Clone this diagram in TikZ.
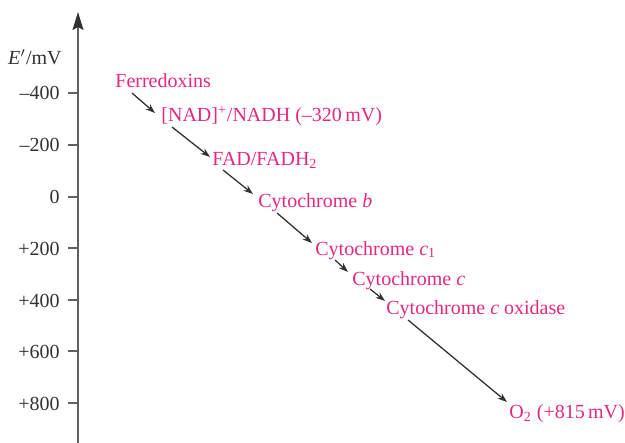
\documentclass[tikz,border=0pt]{standalone}
\usepackage{fontspec}
\setmainfont{Liberation Serif}
\usepackage{xcolor}
\usetikzlibrary{arrows.meta,positioning}
\definecolor{redoxpink}{RGB}{228,40,128}
\definecolor{axisgray}{RGB}{95,95,95}
\definecolor{inkgray}{RGB}{50,50,50}
\tikzset{
  redox/.style={anchor=base west, inner sep=0pt, text=redoxpink},
  tlbl/.style={anchor=base east, inner sep=0pt, text=inkgray},
  tick/.style={draw=axisgray, line width=0.7pt},
  axis/.style={draw=axisgray, line width=0.8pt, -{Stealth[length=9pt,width=5.5pt,inset=1.5pt,color=inkgray]}},
  flow/.style={draw=inkgray, line width=0.65pt, -{Stealth[length=4.8pt,width=3.4pt]}},
}
\begin{document}
\begin{tikzpicture}[x=0.5pt, y=-0.5pt]
  \useasboundingbox (0,0) rectangle (625,443);
  % potential axis
  \coordinate (foot) at (78,443);
  \coordinate (top) at (78,12);
  \draw[axis] (foot) -- (top);
  \node[tlbl] (unit) at (62,65) {\textit{E}$'$/mV};
  \draw[tick] (68,93) -- (78,93);
  \draw[tick] (68,145) -- (78,145);
  \draw[tick] (68,197) -- (78,197);
  \draw[tick] (68,248) -- (78,248);
  \draw[tick] (68,300) -- (78,300);
  \draw[tick] (68,351) -- (78,351);
  \draw[tick] (68,403) -- (78,403);
  \node[tlbl] (tma) at (60,100) {--400};
  \node[tlbl] (tmb) at (60,152) {--200};
  \node[tlbl] (tz) at (60,204) {0};
  \node[tlbl] (tpa) at (60,255) {+200};
  \node[tlbl] (tpb) at (60,307) {+400};
  \node[tlbl] (tpc) at (60,358) {+600};
  \node[tlbl] (tpd) at (60,410) {+800};
  % electron carriers
  \node[redox] (ferr) at (115,88) {Ferredoxins};
  \node[redox] (nad) at (161,122) {[NAD]\textsuperscript{+}/NADH (--320\,mV)};
  \node[redox] (fad) at (212,166) {FAD/FADH\textsubscript{2}};
  \node[redox] (cytb) at (258,207) {Cytochrome \textit{b}};
  \node[redox] (cytca) at (315,255) {Cytochrome \textit{c}\textsubscript{1}};
  \node[redox] (cytc) at (352,285) {Cytochrome \textit{c}};
  \node[redox] (cox) at (386,314) {Cytochrome \textit{c} oxidase};
  \node[redox] (otwo) at (509,418) {O\textsubscript{2} (+815\,mV)};
  % transfer steps
  \draw[flow] ([xshift=8.5pt,yshift=-2.5pt]ferr.base west) -- ([xshift=-3pt,yshift=4.5pt]nad.base west);
  \draw[flow] ([xshift=5.5pt,yshift=-2.5pt]nad.base west) -- ([xshift=-1pt,yshift=4.5pt]fad.base west);
  \draw[flow] ([xshift=5.5pt,yshift=-2pt]fad.base west) -- ([xshift=-2.5pt,yshift=6.5pt]cytb.base west);
  \draw[flow] ([xshift=9.5pt,yshift=-3pt]cytb.base west) -- ([xshift=-1.5pt,yshift=6pt]cytca.base west);
  \draw[flow] ([xshift=10pt,yshift=-2.5pt]cytca.base west) -- ([xshift=-2pt,yshift=6.5pt]cytc.base west);
  \draw[flow] ([xshift=9pt,yshift=-2pt]cytc.base west) -- ([xshift=-0.5pt,yshift=6.5pt]cox.base west);
  \draw[flow] ([xshift=11pt,yshift=-3pt]cox.base west) -- ([xshift=-1pt,yshift=8pt]otwo.base west);
\end{tikzpicture}
\end{document}
